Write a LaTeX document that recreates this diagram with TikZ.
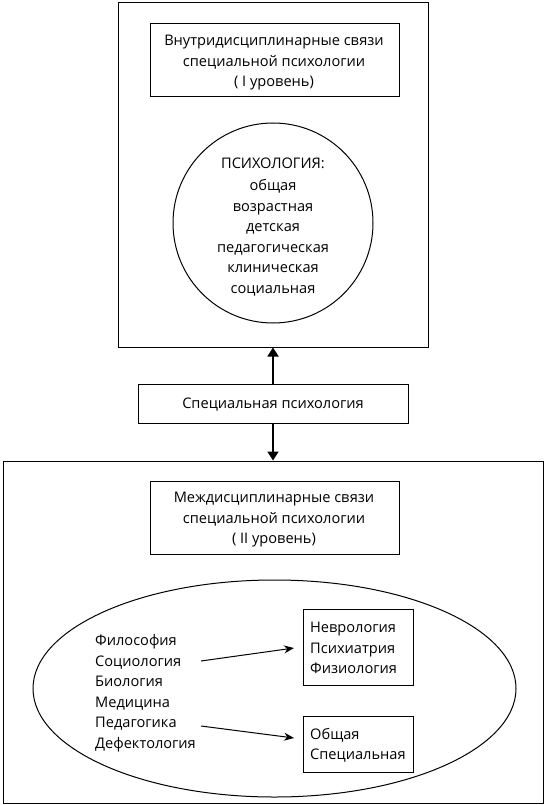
\documentclass[tikz,border=0pt]{standalone}
\usepackage{fontspec}
\setmainfont{Open Sans}
\usetikzlibrary{arrows.meta,shapes.geometric,calc}
\begin{document}
\begin{tikzpicture}[x=1pt,y=-1pt,
  frame/.style={draw,line width=1pt,inner sep=0pt},
  txt/.style={font=\fontsize{14.6}{20.5}\selectfont,align=center,inner sep=0pt},
  ltxt/.style={font=\fontsize{14.6}{20.5}\selectfont,align=left,inner sep=0pt},
  bigarrow/.style={line width=1.8pt,-{Triangle[width=11pt,length=9pt]}},
  thinarrow/.style={line width=1pt,-{Stealth[width=8pt,length=10pt]}}]
\useasboundingbox (0,0) rectangle (546,805);
% top frame
\node[frame,minimum width=310,minimum height=344] (top) at (273,175) {};
\node[frame,minimum width=249,minimum height=73] (t1box) at (274.5,60.5) {};
\node[txt] (t1) at (274,63) {Внутридисциплинарные связи\\специальной психологии\\( I уровень)};
\node[draw,line width=1pt,ellipse,minimum width=200,minimum height=200,inner sep=0pt] (circ) at (273,223) {};
\node[txt] (ct) at (273,227) {ПСИХОЛОГИЯ:\\[2pt]общая\\возрастная\\детская\\педагогическая\\клиническая\\социальная};
% middle
\node[frame,minimum width=270,minimum height=39] (mid) at (273,403.5) {};
\node[txt] (mt) at (273,405) {Специальная психология};
% bottom frame
\node[frame,minimum width=540,minimum height=342] (bot) at (273,632) {};
\node[frame,minimum width=249,minimum height=73] (b1box) at (274.5,518) {};
\node[txt] (b1) at (274,520) {Междисциплинарные связи\\специальной психологии\\( II уровень)};
\node[draw,line width=1pt,ellipse,minimum width=483,minimum height=217,inner sep=0pt] (ell) at (274.5,688.5) {};
\node[ltxt,anchor=west] (lst) at (95,693) {Философия\\Социология\\Биология\\Медицина\\Педагогика\\Дефектология};
\node[frame,minimum width=110,minimum height=76] (nbox) at (358,647) {};
\node[ltxt,anchor=west] (nt) at (310,648) {Неврология\\Психиатрия\\Физиология};
\node[frame,minimum width=110,minimum height=56] (obox) at (358,744) {};
\node[ltxt,anchor=west] (ot) at (310,745) {Общая\\Специальная};
% arrows
\draw[bigarrow] (mid.north) -- (top.south);
\draw[bigarrow] (mid.south) -- (bot.north);
\coordinate (a1s) at (201,661);
\coordinate (a1e) at (294,648);
\coordinate (a2s) at (201,726);
\coordinate (a2e) at (294,738);
\draw[thinarrow] (a1s) -- (a1e);
\draw[thinarrow] (a2s) -- (a2e);
\end{tikzpicture}
\end{document}
